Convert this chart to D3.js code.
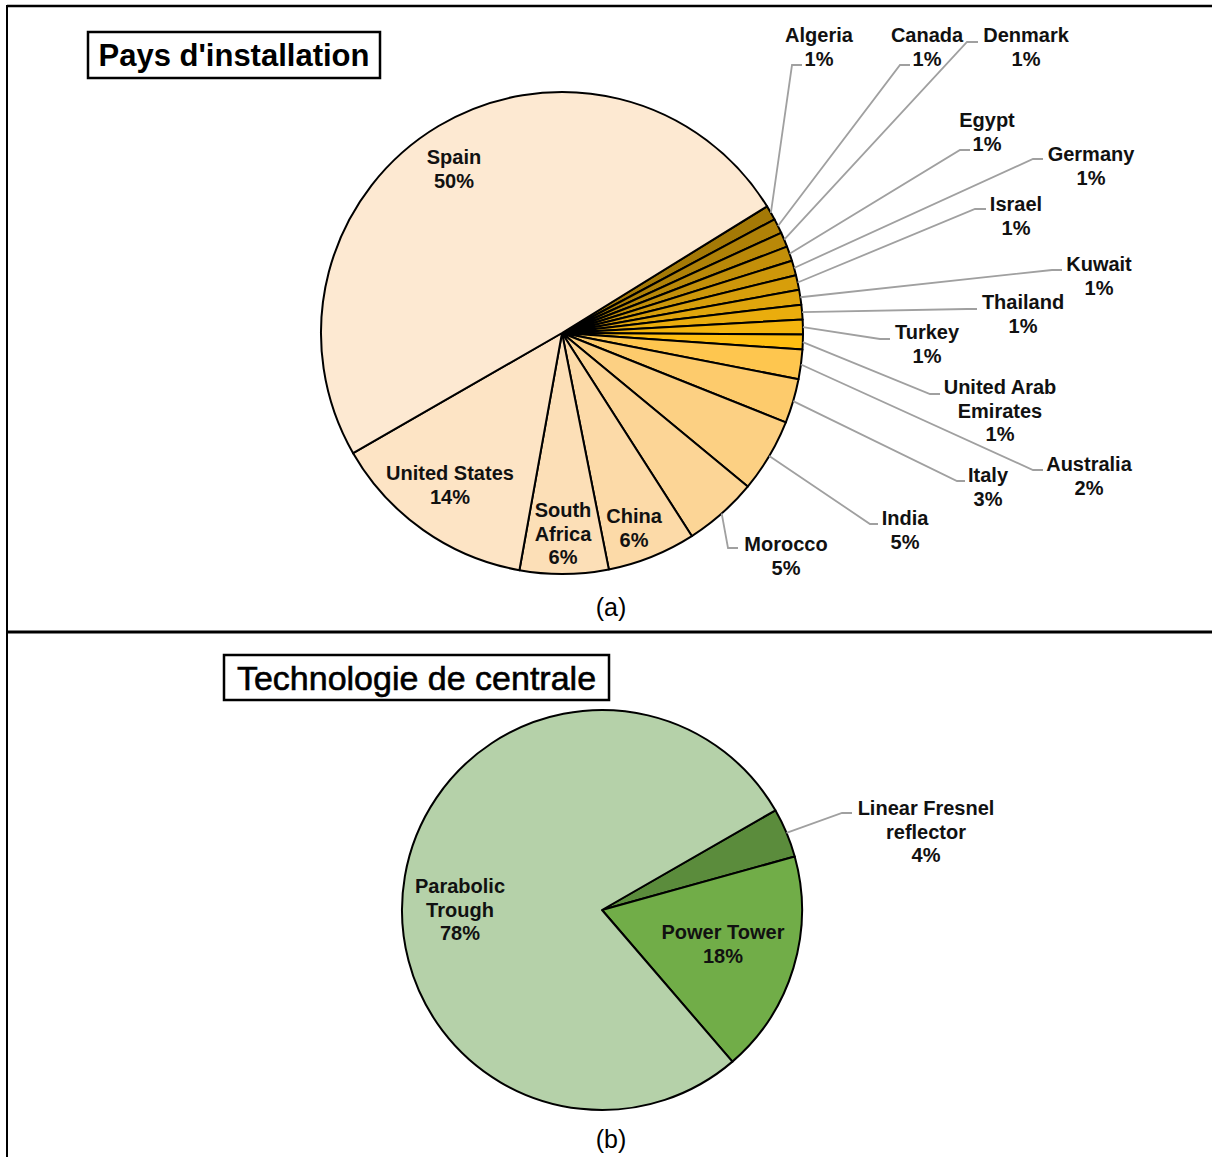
<!DOCTYPE html>
<html>
<head>
<meta charset="utf-8">
<script src="https://cdn.jsdelivr.net/npm/d3@7"></script>
<style>
  html, body { margin: 0; padding: 0; background: #fff; }
  svg { display: block; }
  text { font-family: 'Liberation Sans', Arial, sans-serif; }
</style>
</head>
<body>
<svg id="chart" width="1212" height="1157"></svg>
<script>
// ---------- DATA ----------
const countries = ["Algeria", "Canada", "Denmark", "Egypt", "Germany", "Israel", "Kuwait",
  "Thailand", "Turkey", "United Arab Emirates", "Australia", "Italy", "India", "Morocco",
  "China", "South Africa", "United States", "Spain"];
const plantCounts = [1, 1, 1, 1, 1, 1, 1, 1, 1, 1, 2, 3, 5, 5, 6, 6, 14, 50];

const technologies = ["Linear Fresnel reflector", "Power Tower", "Parabolic Trough"];
const techShares = [4, 18, 78];

const titleA = "Pays d'installation";
const titleB = "Technologie de centrale";
const captionA = "(a)";
const captionB = "(b)";

// ---------- STYLE / LAYOUT ----------
const countryColors = ["#A47906", "#AF8107", "#B98808", "#C38F09", "#CD970A", "#D79E0B",
  "#E0A50C", "#EAAD0D", "#F4B50E", "#FEBE12", "#FEC64F", "#FDCB6C", "#FCD083", "#FCD596",
  "#FCDAA8", "#FCDFB7", "#FDE4C5", "#FDE9D2"];
const techColors = ["#5B8C3C", "#71AD48", "#B5D1A9"];

const labelLayoutA = {
  "Algeria":              { lines: ["Algeria"], x: 819, y: 42, elbow: [792, 65], end: [802, 65] },
  "Canada":               { lines: ["Canada"], x: 927, y: 42, elbow: [900, 65], end: [910, 65] },
  "Denmark":              { lines: ["Denmark"], x: 1026, y: 42, elbow: [967, 42], end: [978, 42] },
  "Egypt":                { lines: ["Egypt"], x: 987, y: 127, elbow: [960, 150], end: [970, 150] },
  "Germany":              { lines: ["Germany"], x: 1091, y: 161, elbow: [1033, 159], end: [1043, 159] },
  "Israel":               { lines: ["Israel"], x: 1016, y: 211, elbow: [975, 209], end: [986, 209] },
  "Kuwait":               { lines: ["Kuwait"], x: 1099, y: 271, elbow: [1052, 270], end: [1062, 270] },
  "Thailand":             { lines: ["Thailand"], x: 1023, y: 309, elbow: [967, 309], end: [977, 309] },
  "Turkey":               { lines: ["Turkey"], x: 927, y: 339, elbow: [880, 339], end: [890, 339] },
  "United Arab Emirates": { lines: ["United Arab", "Emirates"], x: 1000, y: 394, elbow: [930, 394], end: [940, 394] },
  "Australia":            { lines: ["Australia"], x: 1089, y: 471, elbow: [1033, 470], end: [1043, 470] },
  "Italy":                { lines: ["Italy"], x: 988, y: 482, elbow: [957, 481], end: [965, 481] },
  "India":                { lines: ["India"], x: 905, y: 525, elbow: [870, 524], end: [878, 524] },
  "Morocco":              { lines: ["Morocco"], x: 786, y: 551, elbow: [728, 548], end: [738, 548] },
  "China":                { lines: ["China"], x: 634, y: 523 },
  "South Africa":         { lines: ["South", "Africa"], x: 563, y: 517 },
  "United States":        { lines: ["United States"], x: 450, y: 480 },
  "Spain":                { lines: ["Spain"], x: 454, y: 164 }
};
const labelLayoutB = {
  "Linear Fresnel reflector": { lines: ["Linear Fresnel", "reflector"], x: 926, y: 815, elbow: [842, 813], end: [852, 813] },
  "Power Tower":              { lines: ["Power Tower"], x: 723, y: 939 },
  "Parabolic Trough":         { lines: ["Parabolic", "Trough"], x: 460, y: 893 }
};

const W = 1212, H = 1157;
const LINE_H = 23.5;
const deg = Math.PI / 180;

const svg = d3.select("#chart");
svg.append("rect").attr("width", W).attr("height", H).attr("fill", "#fff");

// panel borders
const borders = svg.append("g").attr("stroke", "#000").attr("fill", "none");
borders.append("line").attr("x1", 7).attr("y1", 6).attr("x2", W).attr("y2", 6).attr("stroke-width", 2.5);
borders.append("line").attr("x1", 7).attr("y1", 5).attr("x2", 7).attr("y2", H).attr("stroke-width", 2);
borders.append("line").attr("x1", 7).attr("y1", 632).attr("x2", W).attr("y2", 632).attr("stroke-width", 3);

// title boxes
function titleBox(x, y, w, h, txt, size, weight, extraStroke) {
  svg.append("rect").attr("x", x).attr("y", y).attr("width", w).attr("height", h)
    .attr("fill", "#fff").attr("stroke", "#000").attr("stroke-width", 2.5);
  const t = svg.append("text").attr("x", x + w / 2).attr("y", y + h / 2 + size * 0.358)
    .attr("text-anchor", "middle").attr("font-size", size).attr("font-weight", weight)
    .attr("fill", "#000").text(txt);
  if (extraStroke) t.attr("stroke", "#000").attr("stroke-width", extraStroke);
}
titleBox(88, 32, 292, 46, titleA, 31, "bold", 0);
titleBox(224, 655, 385, 45, titleB, 34, "normal", 0.6);

// captions
svg.append("text").attr("x", 611).attr("y", 616).attr("text-anchor", "middle")
  .attr("font-size", 25).text(captionA);
svg.append("text").attr("x", 611).attr("y", 1148).attr("text-anchor", "middle")
  .attr("font-size", 25).text(captionB);

function drawPie(cx, cy, r, names, values, colors, startDeg, layout) {
  const total = d3.sum(values);
  const pie = d3.pie().sort(null).value(d => d.v)
    .startAngle(startDeg * deg).endAngle(startDeg * deg + 2 * Math.PI);
  const data = names.map((n, i) => ({ name: n, v: values[i], color: colors[i] }));
  const arcs = pie(data);
  const arc = d3.arc().innerRadius(0).outerRadius(r);
  const g = svg.append("g").attr("transform", `translate(${cx},${cy})`);
  g.selectAll("path.slice").data(arcs).join("path")
    .attr("class", "slice")
    .attr("d", arc)
    .attr("fill", d => d.data.color)
    .attr("stroke", "#000").attr("stroke-width", 2).attr("stroke-linejoin", "round");

  const labels = svg.append("g");
  arcs.forEach(a => {
    const L = layout[a.data.name];
    if (!L) return;
    if (L.elbow) {
      const mid = (a.startAngle + a.endAngle) / 2;
      const sx = cx + r * Math.sin(mid), sy = cy - r * Math.cos(mid);
      labels.append("polyline")
        .attr("points", [[sx, sy], L.elbow, L.end].map(p => p.join(",")).join(" "))
        .attr("fill", "none").attr("stroke", "#A0A0A0").attr("stroke-width", 1.8);
    }
    const pct = Math.round(a.data.v / total * 100) + "%";
    const lines = L.lines.concat([pct]);
    const t = labels.append("text").attr("text-anchor", "middle")
      .attr("font-size", 20).attr("font-weight", "bold").attr("fill", "#111");
    lines.forEach((ln, i) => {
      t.append("tspan").attr("x", L.x).attr("y", L.y + i * LINE_H).text(ln);
    });
  });
}

drawPie(562, 333, 241, countries, plantCounts, countryColors, 58.3, labelLayoutA);
drawPie(602, 910, 200, technologies, techShares, techColors, 60.1, labelLayoutB);
</script>
</body>
</html>
